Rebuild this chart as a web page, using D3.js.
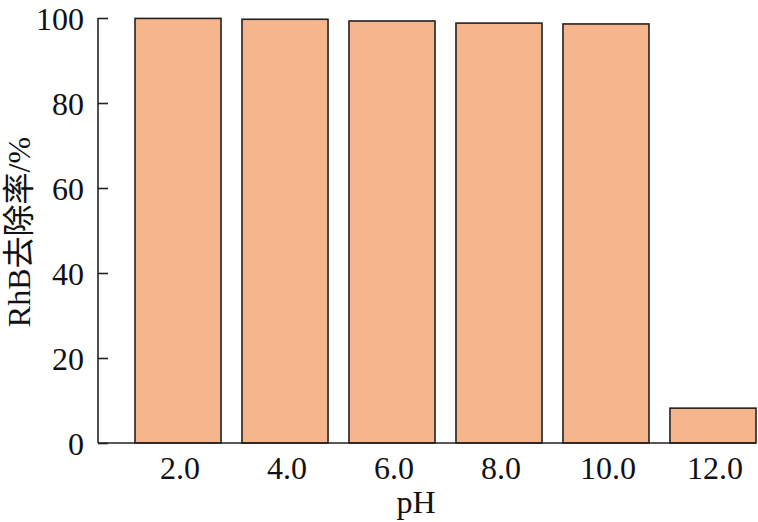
<!DOCTYPE html>
<html><head><meta charset="utf-8">
<script src="https://cdn.jsdelivr.net/npm/d3@7"></script>
<style>body{margin:0;background:#fff}</style>
</head><body>
<svg id="c" width="758" height="522"></svg>
<script>
const categories = ["2.0","4.0","6.0","8.0","10.0","12.0"];
const values = [99.9, 99.7, 99.3, 98.8, 98.6, 8.2];
const yTicks = [0,20,40,60,80,100];
const FONT = '"Liberation Serif", "Noto Sans CJK SC"';

const svg = d3.select("#c");
const x = d3.scaleBand().domain(categories).range([135,756]).paddingInner(0.196).paddingOuter(0);
const y = d3.scaleLinear().domain([0,100]).range([443,18]);
const axisX0 = 98;

svg.selectAll("rect.bar").data(values).enter().append("rect")
  .attr("x",(d,i)=>x(categories[i]))
  .attr("y",d=>y(d))
  .attr("width",x.bandwidth())
  .attr("height",d=>y(0)-y(d))
  .attr("fill","#F5B68D").attr("stroke","#222").attr("stroke-width",1.6);

// y axis
const ya = svg.append("g").attr("transform",`translate(${axisX0},0)`)
  .call(d3.axisLeft(y).tickValues(yTicks).tickSize(-10).tickPadding(14).tickFormat(d3.format("d")));
ya.select(".domain").attr("d",`M0,${y(100)}V${y(0)}`).attr("stroke","#222").attr("stroke-width",1.6);
ya.selectAll(".tick line").attr("stroke","#222").attr("stroke-width",1.6);
ya.selectAll(".tick text").attr("font-size",32).attr("dy","0.35em").attr("fill","#111").style("font-family",FONT);

// x axis
const xa = svg.append("g").attr("transform",`translate(0,${y(0)})`)
  .call(d3.axisBottom(x).tickSize(0).tickPadding(13));
xa.select(".domain").attr("d",`M${axisX0},0H756`).attr("stroke","#222").attr("stroke-width",1.6);
xa.selectAll(".tick text").attr("font-size",32).attr("dx","2").attr("fill","#111").style("font-family",FONT);

svg.append("text").attr("x",416).attr("y",513).attr("text-anchor","middle").attr("font-size",32).attr("fill","#111").style("font-family",FONT).text("pH");
svg.append("text").attr("transform","translate(30,232) rotate(-90)").attr("text-anchor","middle").attr("font-size",32).attr("fill","#111").style("font-family",FONT).text("RhB去除率/%");
</script>
</body></html>
